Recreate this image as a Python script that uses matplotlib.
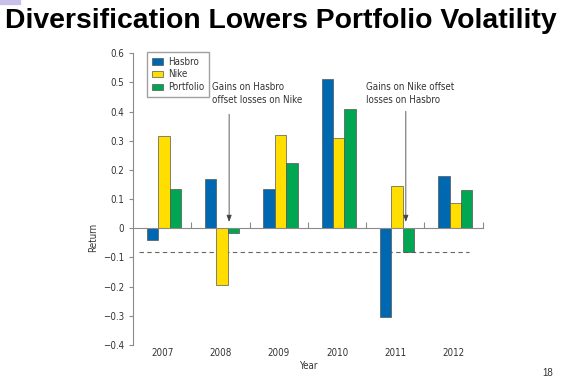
import matplotlib.pyplot as plt
import matplotlib.patches as mpatches
import numpy as np

# data
years = ['2007', '2008', '2009', '2010', '2011', '2012']
hasbro = [-0.04, 0.17, 0.135, 0.51, -0.305, 0.18]
nike = [0.315, -0.195, 0.32, 0.31, 0.145, 0.085]
portfolio = [0.135, -0.015, 0.225, 0.41, -0.08, 0.13]
series_names = ['Hasbro', 'Nike', 'Portfolio']
colors = ['#0067b1', '#ffde00', '#00a651']
worst_portfolio = -0.08

txt = '#333333'
grey = '#8a8a8a'
plt.rcParams['font.family'] = ['DejaVu Sans']
plt.rcParams['font.stretch'] = 'condensed'

fig = plt.figure(figsize=(5.68, 3.77), dpi=100)
ax = fig.add_axes([0.234, 0.085, 0.616, 0.774])

x = np.arange(len(years))
w = 0.195
for i, (vals, name, c) in enumerate(zip([hasbro, nike, portfolio], series_names, colors)):
    ax.bar(x + (i - 1) * w + 0.03, vals, width=w, color=c, edgecolor='#555555',
           linewidth=0.5, label=name, zorder=3)

ax.set_xlim(-0.5, len(years) - 0.5)
ax.set_ylim(-0.4, 0.6)
ax.set_yticks(np.arange(-0.4, 0.61, 0.1))
ax.set_yticklabels(['\u22120.4', '\u22120.3', '\u22120.2', '\u22120.1', '0', '0.1', '0.2', '0.3', '0.4', '0.5', '0.6'])
ax.tick_params(axis='y', labelsize=7, colors=grey, labelcolor=txt, length=3, width=0.8)

for s in ['top', 'right']:
    ax.spines[s].set_visible(False)
ax.spines['left'].set_color(grey)
ax.spines['bottom'].set_position(('data', 0))
ax.spines['bottom'].set_color(grey)
ax.spines['bottom'].set_zorder(4)
ax.set_xticks(x + 0.5)
ax.set_xticklabels([])
ax.tick_params(axis='x', direction='in', length=4, colors=grey, width=0.8)

# year labels along the bottom
sec = ax.secondary_xaxis('bottom')
sec.set_xticks(x)
sec.set_xticklabels(years)
sec.tick_params(length=0, labelsize=7, labelcolor=txt, pad=2)
sec.spines['bottom'].set_visible(False)
sec.set_xlabel('Year', fontsize=7, color=txt, labelpad=2)

ax.set_ylabel('Return', fontsize=7, color=txt)
ax.yaxis.set_label_coords(-0.1, 0.37)

ax.axhline(worst_portfolio, xmin=0.017, xmax=0.96, color='#666666', linestyle=(0, (4, 3)),
           linewidth=0.8, zorder=2)

ax.legend(loc='upper left', bbox_to_anchor=(0.04, 1.005), borderaxespad=0, fontsize=7,
          frameon=True, fancybox=False, edgecolor=grey, handlelength=1.2, handleheight=0.7,
          handletextpad=0.5, borderpad=0.5, labelspacing=0.3, labelcolor=txt)

arrow = dict(arrowstyle='-|>,head_length=0.4,head_width=0.15', color='#444444', linewidth=0.6)
ax.annotate('', xy=(1.15, 0.012), xytext=(1.15, 0.40), arrowprops=arrow)
ax.text(0.86, 0.50, 'Gains on Hasbro\noffset losses on Nike', fontsize=7, color=txt,
        va='top', ha='left', linespacing=1.3)
ax.annotate('', xy=(4.18, 0.012), xytext=(4.18, 0.41), arrowprops=arrow)
ax.text(3.49, 0.50, 'Gains on Nike offset\nlosses on Hasbro', fontsize=7, color=txt,
        va='top', ha='left', linespacing=1.3)

fig.text(0.494, 0.978, 'Diversification Lowers Portfolio Volatility', ha='center', va='top',
         fontsize=20.4, fontweight='bold', family='Liberation Sans', stretch='normal', color='black')
fig.text(0.955, 0.003, '18', fontsize=7, color='#333333', family='Liberation Sans', stretch='normal')
fig.patches.append(mpatches.Rectangle((0, 0.99), 0.035, 0.01, transform=fig.transFigure,
                                      color='#c8c0e8', zorder=0))

fig.savefig('out.png', dpi=100)
